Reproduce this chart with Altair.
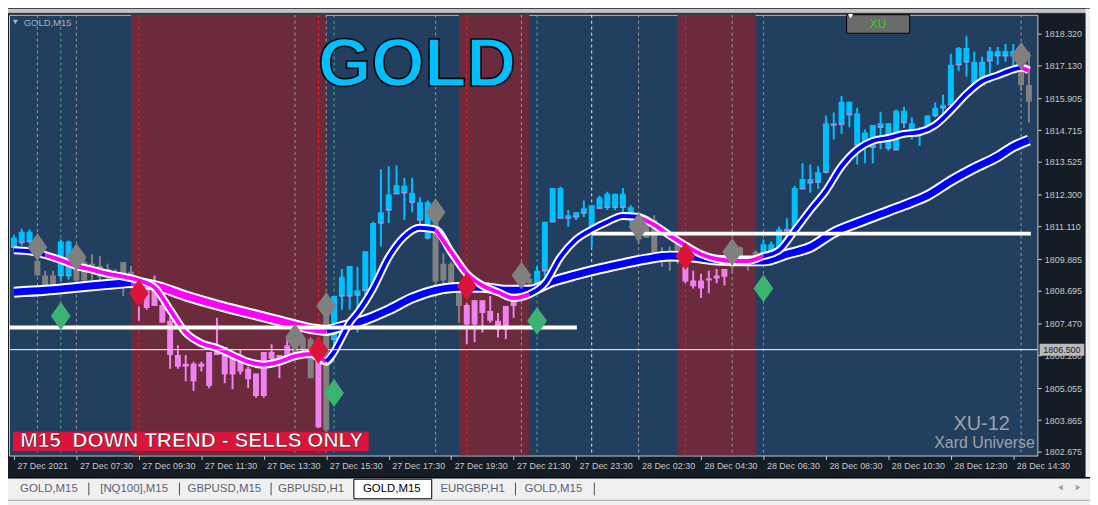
import json
import altair as alt
import pandas as pd

# ------------------------------------------------------------------ data
BARS = list(range(131))
# c = up-trend (cyan), p = down-trend (violet), g = neutral (gray)
KIND = ("ccc" "ggg" "cc" "gggggggg" "pppppppppppppppppppp" "ggg" "p" "g"
        "ccccccccccccc" "gggg" "ppppppp" "gg" "ccccccccccccc" "gggggg"
        "pppppp" "gggg" "ccccccccccccccccccccccccccccccccc" "gg")

HIGH = [1810.80, 1811.02, 1810.99, 1810.10, 1809.45, 1809.45, 1810.62, 1810.58, 1810.07, 1810.07,
        1810.07, 1810.00, 1809.71, 1809.52, 1809.78, 1809.63, 1809.09, 1808.98, 1809.27, 1808.51,
        1807.76, 1806.67, 1806.30, 1806.05, 1806.05, 1806.41, 1807.69, 1806.59, 1806.30, 1806.52,
        1805.86, 1805.61, 1806.41, 1806.70, 1806.30, 1806.89, 1806.96, 1807.03, 1806.96, 1806.41,
        1808.61, 1808.51, 1809.52, 1809.63, 1809.60, 1810.18, 1811.28, 1813.25, 1813.36, 1813.39,
        1812.92, 1812.92, 1812.19, 1812.08, 1811.64, 1810.11, 1809.78, 1808.68, 1808.24, 1808.35,
        1808.35, 1808.51, 1807.87, 1808.13, 1808.90, 1809.16, 1809.16, 1809.63, 1811.28, 1812.55,
        1812.59, 1811.72, 1811.64, 1812.08, 1811.90, 1812.26, 1812.41, 1812.33, 1812.55, 1811.90,
        1811.53, 1811.42, 1811.53, 1810.33, 1810.36, 1810.73, 1809.71, 1809.45, 1809.34, 1809.45,
        1809.52, 1809.52, 1810.26, 1810.36, 1809.89, 1810.22, 1810.62, 1810.55, 1811.10, 1811.42,
        1812.63, 1813.47, 1813.43, 1813.36, 1815.26, 1815.37, 1815.99, 1815.77, 1815.55, 1814.73,
        1814.90, 1815.40, 1814.97, 1815.48, 1815.59, 1815.19, 1814.82, 1815.26, 1815.74, 1816.03,
        1817.57, 1817.82, 1818.22, 1817.64, 1817.46, 1817.82, 1817.82, 1817.93, 1817.93, 1817.67,
        1817.64]
BODY_HI = [1810.69, 1810.91, 1810.91, 1809.82, 1809.27, 1809.27, 1810.55, 1810.55, 1809.63, 1809.78,
           1809.71, 1809.63, 1809.52, 1809.34, 1809.78, 1809.41, 1808.98, 1808.72, 1808.98, 1808.17,
           1807.58, 1806.30, 1805.97, 1805.97, 1805.97, 1806.41, 1806.59, 1806.59, 1806.30, 1806.30,
           1805.79, 1805.61, 1806.41, 1806.41, 1806.30, 1806.67, 1806.89, 1806.96, 1806.89, 1806.30,
           1808.13, 1808.51, 1809.23, 1809.63, 1808.72, 1810.18, 1811.24, 1811.64, 1812.30, 1812.66,
           1812.63, 1812.37, 1812.01, 1812.01, 1811.24, 1809.71, 1809.71, 1808.68, 1808.17, 1808.35,
           1808.35, 1807.95, 1807.58, 1808.13, 1808.87, 1809.16, 1809.16, 1809.45, 1811.28, 1812.55,
           1812.55, 1811.53, 1811.64, 1811.79, 1811.90, 1812.19, 1812.33, 1812.33, 1812.33, 1811.83,
           1811.35, 1811.17, 1811.35, 1810.18, 1810.18, 1810.62, 1809.60, 1809.09, 1809.09, 1809.16,
           1809.27, 1809.52, 1810.15, 1810.33, 1809.89, 1810.15, 1810.44, 1810.44, 1810.99, 1811.02,
           1812.55, 1812.88, 1812.88, 1813.14, 1814.97, 1814.97, 1815.77, 1815.77, 1815.33, 1814.62,
           1814.90, 1814.97, 1814.97, 1815.44, 1815.44, 1814.97, 1814.64, 1815.26, 1815.55, 1815.66,
           1817.16, 1817.78, 1817.78, 1817.27, 1817.27, 1817.67, 1817.67, 1817.67, 1817.67, 1817.49,
           1816.40]
BODY_LO = [1810.33, 1810.51, 1810.55, 1809.27, 1808.87, 1808.79, 1809.27, 1809.27, 1809.09, 1809.09,
           1809.60, 1809.23, 1809.16, 1809.09, 1809.09, 1808.98, 1808.24, 1808.06, 1808.13, 1807.51,
           1806.30, 1805.86, 1805.86, 1805.32, 1805.86, 1805.14, 1806.30, 1805.57, 1805.57, 1805.68,
           1805.39, 1804.77, 1804.77, 1806.15, 1805.97, 1806.15, 1806.30, 1806.52, 1805.43, 1803.60,
           1803.49, 1806.89, 1808.51, 1808.51, 1808.54, 1808.72, 1808.68, 1811.24, 1811.72, 1812.33,
           1812.37, 1812.01, 1811.35, 1810.69, 1809.05, 1809.09, 1808.72, 1808.13, 1807.44, 1807.44,
           1807.87, 1807.58, 1807.25, 1807.25, 1808.13, 1808.79, 1808.98, 1808.98, 1809.45, 1811.28,
           1811.42, 1811.42, 1811.46, 1811.61, 1810.88, 1811.79, 1811.83, 1811.83, 1811.83, 1811.35,
           1810.62, 1810.69, 1810.15, 1809.82, 1809.89, 1809.82, 1809.05, 1808.87, 1808.79, 1809.09,
           1809.16, 1809.23, 1809.60, 1809.78, 1809.63, 1809.63, 1810.07, 1809.96, 1809.96, 1810.95,
           1810.99, 1812.52, 1812.74, 1812.77, 1813.14, 1814.90, 1814.93, 1815.29, 1814.16, 1814.14,
           1814.07, 1814.82, 1814.04, 1813.98, 1815.00, 1814.57, 1814.57, 1814.64, 1815.26, 1815.55,
           1815.66, 1817.16, 1817.27, 1816.40, 1816.40, 1817.31, 1817.49, 1817.49, 1817.49, 1816.40,
           1815.77]
LOW = [1810.22, 1810.40, 1810.44, 1809.27, 1808.54, 1808.54, 1809.05, 1809.12, 1808.98, 1808.98,
       1809.05, 1808.90, 1809.09, 1808.79, 1808.51, 1808.79, 1807.58, 1807.99, 1808.13, 1807.51,
       1805.79, 1805.79, 1805.32, 1804.95, 1805.68, 1805.06, 1806.30, 1805.24, 1805.02, 1805.57,
       1805.06, 1804.70, 1804.70, 1805.97, 1805.43, 1806.05, 1806.23, 1806.41, 1805.43, 1803.57,
       1803.42, 1806.41, 1807.99, 1807.99, 1807.14, 1808.17, 1808.61, 1810.36, 1811.24, 1812.33,
       1811.35, 1811.64, 1811.06, 1810.62, 1808.79, 1808.68, 1808.68, 1807.51, 1806.70, 1806.78,
       1807.14, 1807.51, 1806.96, 1806.89, 1807.69, 1808.43, 1808.61, 1808.98, 1809.23, 1811.28,
       1811.42, 1811.10, 1811.35, 1811.46, 1810.33, 1811.79, 1811.72, 1811.72, 1811.46, 1811.17,
       1810.44, 1810.69, 1810.00, 1809.60, 1809.45, 1809.71, 1808.98, 1808.79, 1808.43, 1808.61,
       1808.98, 1808.90, 1809.34, 1809.63, 1809.45, 1809.63, 1809.96, 1809.63, 1809.96, 1810.73,
       1810.99, 1812.52, 1812.37, 1812.52, 1813.10, 1814.36, 1814.57, 1814.82, 1813.43, 1813.47,
       1813.47, 1814.00, 1813.94, 1813.98, 1814.79, 1814.36, 1814.13, 1814.57, 1815.19, 1815.15,
       1815.66, 1816.91, 1816.72, 1816.17, 1816.40, 1816.47, 1817.16, 1817.27, 1817.02, 1816.17,
       1815.00]

# slow moving average (thick band)
SLOW_BARS = [0, 4, 8, 12, 15, 18, 22, 26, 30, 34, 38, 40, 42, 45, 48, 51, 54, 57, 60, 63, 66,
             69, 72, 75, 78, 81, 84, 87, 90, 93, 96, 99, 102, 105, 108, 111, 114, 117, 120, 123,
             126, 128, 130]
SLOW_VAL = [1808.65, 1808.72, 1808.83, 1808.94, 1809.01, 1808.90, 1808.51, 1808.17, 1807.87,
            1807.58, 1807.29, 1807.22, 1807.37, 1807.62, 1807.99, 1808.43, 1808.72, 1808.83,
            1808.83, 1808.72, 1808.72, 1809.05, 1809.30, 1809.52, 1809.71, 1809.89, 1810.00,
            1809.96, 1809.85, 1809.82, 1809.82, 1810.07, 1810.33, 1810.88, 1811.24, 1811.57,
            1811.90, 1812.26, 1812.81, 1813.29, 1813.72, 1814.09, 1814.34]
SLOW_TREND = "bbbb" "mmmmmmm" "bbbbbbbbbbbbbbbbbbbbbbbbbbbbbbbb"

# fast moving average (thin band)
FAST_BARS = [0, 2, 4, 6, 8, 10, 12, 14, 16, 18, 20, 22, 24, 26, 28, 30, 32, 34, 36, 38, 40,
             41, 42, 43, 44, 46, 48, 50, 52, 54, 56, 58, 60, 62, 64, 66, 68, 70, 72, 74, 76, 78,
             80, 82, 84, 86, 88, 90, 92, 94, 96, 98, 100, 102, 104, 106, 108, 110, 112, 114,
             116, 118, 120, 122, 124, 126, 128, 129, 130]
FAST_VAL = [1810.22, 1810.18, 1810.04, 1809.85, 1809.63, 1809.49, 1809.34, 1809.23, 1809.09,
            1808.83, 1807.99, 1807.14, 1806.74, 1806.56, 1806.30, 1806.05, 1805.94, 1806.05,
            1806.26, 1806.34, 1806.05, 1806.41, 1806.96, 1807.51, 1807.87, 1808.79, 1809.96,
            1810.73, 1811.06, 1810.99, 1810.15, 1809.34, 1808.90, 1808.65, 1808.43, 1808.57,
            1808.98, 1809.96, 1810.62, 1810.99, 1811.28, 1811.50, 1811.46, 1811.17, 1810.77,
            1810.40, 1810.07, 1809.89, 1809.82, 1809.82, 1810.00, 1810.22, 1810.95, 1811.72,
            1812.44, 1813.36, 1813.98, 1814.31, 1814.42, 1814.57, 1814.64, 1814.90, 1815.44,
            1816.06, 1816.54, 1816.76, 1816.98, 1817.05, 1816.94]
FAST_TREND = ("bb" "mmmmmmmmmmmmmmmmmm" "b" "bbbbbbbb" "mmmmmm" "bbbbbbb" "mmmmmmmm"
              "bbbbbbbbbbbbbbbbb" "mm")

# signal diamonds
SIG_BAR = [3, 8, 36, 40, 54, 65, 80, 92, 129, 6, 41, 67, 96, 16, 39, 58, 86]
SIG_KIND = ["n", "n", "n", "n", "n", "n", "n", "n", "n", "b", "b", "b", "b", "s", "s", "s", "s"]
SIG_PRICE = [1810.33, 1809.96, 1806.96, 1808.13, 1811.64, 1809.27, 1811.10, 1810.15, 1817.49,
             1807.76, 1804.88, 1807.58, 1808.79, 1808.61, 1806.48, 1808.87, 1810.00]

# vertical dashed markers
DASH_BAR = [3, 6, 8, 16, 36, 39, 40, 41, 54, 58, 65, 67, 74, 80, 86, 92, 96, 129]
DASH_KIND = ["n", "b", "n", "s", "n", "s", "n", "b", "n", "s", "n", "b", "l", "n", "s", "n", "b", "n"]

# horizontal levels
LEVEL_START = [-2, 74]
LEVEL_END = [72.1, 130.25]
LEVEL_PRICE = [1807.33, 1810.84]
CURRENT_PRICE = 1806.50

# session zones (bars)
ZONE_START = [15, 57, 85]
ZONE_END = [40, 66, 95]

PRICE_TICKS = [1818.320, 1817.130, 1815.905, 1814.715, 1813.525, 1812.300, 1811.110,
               1809.885, 1808.695, 1807.470, 1806.280, 1805.055, 1803.865, 1802.675]
TIME_TICKS = [0, 8, 16, 24, 32, 40, 48, 56, 64, 72, 80, 88, 96, 104, 112, 120, 128]
TIME_LABELS = ["27 Dec 2021", "27 Dec 07:30", "27 Dec 09:30", "27 Dec 11:30", "27 Dec 13:30",
               "27 Dec 15:30", "27 Dec 17:30", "27 Dec 19:30", "27 Dec 21:30", "27 Dec 23:30",
               "28 Dec 02:30", "28 Dec 04:30", "28 Dec 06:30", "28 Dec 08:30", "28 Dec 10:30",
               "28 Dec 12:30", "28 Dec 14:30"]

TAB_LABELS = ["GOLD,M15", "[NQ100],M15", "GBPUSD,M15", "GBPUSD,H1", "GOLD,M15", "EURGBP,H1", "GOLD,M15"]
ACTIVE_TAB = 4

# ------------------------------------------------------------------ layout / style
W, H = 1036, 444
FONT = "Liberation Sans"
BLUE_BG, RED_BG, AXIS_BG = "#233f60", "#6b2b3d", "#141c26"
CYAN, PINK, GRAY = "#00bfff", "#ee82ee", "#808080"
TAB_CX = [41.5, 128, 219.5, 307.5, 389.5, 471.5, 553.5]
TAB_SEP = [82, 174, 267, 515, 595]


def px(rx):
    return rx * 1090.0 / 1098.0 - 1.0


def py(ry):
    return ry * 497.0 / 505.0 - 5.0


xs = alt.Scale(domain=[0, 130.45], nice=False, zero=False)
ys = alt.Scale(domain=[1802.541, 1819.025], nice=False, zero=False)

label_expr = f"{json.dumps(TIME_LABELS)}[indexof({json.dumps(TIME_TICKS)}, datum.value)]"
XAX = alt.Axis(values=TIME_TICKS, labelExpr=label_expr, labelAlign="left", labelOffset=3,
               labelBaseline="top", labelFont=FONT, labelFontSize=9, labelColor="#c8c8c8",
               tickColor="#c8c8c8", tickSize=4, labelPadding=2, domain=False, grid=False,
               title=None, labelOverlap=False, labelFlush=False)
YAX = alt.Axis(values=PRICE_TICKS, format=".3f", orient="right", labelFont=FONT, labelFontSize=9,
               labelColor="#c8c8c8", tickColor="#c8c8c8", tickSize=4, labelPadding=3,
               domain=False, grid=False, title=None, labelOverlap=False, labelFlush=False)


def X(f):
    return alt.X(f"{f}:Q", scale=xs, axis=XAX)


def Y(f):
    return alt.Y(f"{f}:Q", scale=ys, axis=YAX)


def one():
    return pd.DataFrame({"k": [0]})


def txt(s, x, y, **kw):
    return alt.Chart(pd.DataFrame({"t": [s]})).mark_text(**kw).encode(
        text="t:N", x=alt.value(x), y=alt.value(y))


def box(x1, x2, y1, y2, **kw):
    return alt.Chart(one()).mark_rect(**kw).encode(
        x=alt.value(x1), x2=alt.value(x2), y=alt.value(y1), y2=alt.value(y2))


def hline(x1, x2, y, **kw):
    return alt.Chart(one()).mark_rule(**kw).encode(x=alt.value(x1), x2=alt.value(x2), y=alt.value(y))


def vline(x, y1, y2, **kw):
    return alt.Chart(one()).mark_rule(**kw).encode(x=alt.value(x), y=alt.value(y1), y2=alt.value(y2))


def sym(shape, x, y, size, color):
    return alt.Chart(one()).mark_point(shape=shape, size=size, filled=True, opacity=1,
                                       color=color, strokeWidth=0).encode(
        x=alt.value(x), y=alt.value(y))


def segments(bars, vals, trend):
    rows, seg, start, n = [], 0, 0, len(bars)
    while start < n:
        end = start
        while end + 1 < n and trend[end + 1] == trend[start]:
            end += 1
        last = min(end + 1, n - 1)
        for j in range(start, last + 1):
            rows.append({"bar": bars[j], "v": vals[j], "seg": seg, "trend": trend[start]})
        seg += 1
        start = end + 1
    return pd.DataFrame(rows)


# ------------------------------------------------------------------ layers
cdf = pd.DataFrame(dict(bar=BARS, kind=list(KIND), high=HIGH, bhi=BODY_HI, blo=BODY_LO, low=LOW))
kind_color = alt.Color("kind:N", scale=alt.Scale(domain=["c", "p", "g"], range=[CYAN, PINK, GRAY]),
                       legend=None)
trend_color = alt.Color("trend:N", scale=alt.Scale(domain=["b", "m"], range=["#0000ff", "#ff00ff"]),
                        legend=None)

zones = alt.Chart(pd.DataFrame(dict(start=ZONE_START, end=ZONE_END))).mark_rect(
    color=RED_BG, clip=True).encode(x=X("start"), x2="end", y=alt.value(0), y2=alt.value(H))

dashes = alt.Chart(pd.DataFrame(dict(bar=DASH_BAR, kind=DASH_KIND))).mark_rule(
    strokeDash=[3, 3], strokeWidth=1, clip=True).encode(
    x=X("bar"),
    color=alt.Color("kind:N", scale=alt.Scale(domain=["n", "b", "s", "l"],
                                              range=["#9a9a9a", "#4fae84", "#ff1c1c", "#c8f4ff"]),
                    legend=None))

gold = txt("GOLD", px(415), py(78), font=FONT, fontWeight="bold", fontSize=69,
           color=CYAN, stroke="#05080c", strokeWidth=1.6, align="center", baseline="alphabetic")

wicks = alt.Chart(cdf).mark_rule(strokeWidth=2, clip=True).encode(
    x=X("bar"), y=Y("low"), y2="high", color=kind_color)
bodies = alt.Chart(cdf).mark_bar(size=6, clip=True, orient="vertical").encode(
    x=X("bar"), y=Y("blo"), y2="bhi", color=kind_color)
opens = alt.Chart(cdf).transform_filter("datum.kind == 'c'").mark_tick(
    orient="horizontal", size=6, thickness=1.5, color="#ff80e0", clip=True).encode(
    x=X("bar"), y=Y("blo"))

sdf = pd.DataFrame(dict(bar=SLOW_BARS, v=SLOW_VAL))
fdf = pd.DataFrame(dict(bar=FAST_BARS, v=FAST_VAL))
slow_out = alt.Chart(sdf).mark_line(color="white", strokeWidth=11, interpolate="monotone",
                                    clip=True).encode(x=X("bar"), y=Y("v"))
slow_in = alt.Chart(segments(SLOW_BARS, SLOW_VAL, SLOW_TREND)).mark_line(
    strokeWidth=7, interpolate="monotone", clip=True).encode(
    x=X("bar"), y=Y("v"), detail="seg:N", color=trend_color)
fast_out = alt.Chart(fdf).mark_line(color="white", strokeWidth=8, interpolate="monotone",
                                    clip=True).encode(x=X("bar"), y=Y("v"))
fast_in = alt.Chart(segments(FAST_BARS, FAST_VAL, FAST_TREND)).mark_line(
    strokeWidth=4, interpolate="monotone", clip=True).encode(
    x=X("bar"), y=Y("v"), detail="seg:N", color=trend_color)

levels = alt.Chart(pd.DataFrame(dict(start=LEVEL_START, end=LEVEL_END, price=LEVEL_PRICE))).mark_rule(
    color="white", strokeWidth=4, clip=True).encode(x=X("start"), x2="end", y=Y("price"))
cur = pd.DataFrame({"price": [CURRENT_PRICE]})
cur_line = alt.Chart(cur).mark_rule(color="white", strokeWidth=1, clip=True).encode(y=Y("price"))

DIAMOND = "M0,-1.4L1,0L0,1.4L-1,0Z"
diamonds = alt.Chart(pd.DataFrame(dict(bar=SIG_BAR, kind=SIG_KIND, price=SIG_PRICE))).mark_point(
    shape=DIAMOND, size=400, filled=True, opacity=1, strokeWidth=0, clip=True).encode(
    x=X("bar"), y=Y("price"),
    color=alt.Color("kind:N", scale=alt.Scale(domain=["n", "b", "s"],
                                              range=[GRAY, "#3cb371", "#dc143c"]), legend=None))

BOX = "M-1,-0.27L1,-0.27L1,0.27L-1,0.27Z"
price_box = alt.Chart(cur).mark_point(shape=BOX, size=2025, filled=True, opacity=1, strokeWidth=0,
                                      color="#b9b9b9").encode(x=alt.value(px(1069.5)), y=Y("price"))
price_txt = alt.Chart(cur).mark_text(font=FONT, fontSize=9, color="#202020", align="center",
                                     baseline="middle").encode(
    x=alt.value(px(1069.5)), y=Y("price"), text=alt.Text("price:Q", format=".3f"))

# annotation boxes inside the chart
trend_box = box(px(5), px(366), py(432), py(451.5), color="#dc143c")
TREND_TEXT = "M15\u00a0 DOWN TREND - SELLS ONLY"
trend_tx = txt(TREND_TEXT, px(186.5), py(448), font=FONT, fontWeight="bold",
               fontSize=21, color="white", stroke="#5a0a1c", strokeWidth=0.6,
               align="center", baseline="alphabetic")
xu12 = txt("XU-12", px(988), py(430), font=FONT, fontSize=20, color="#9fa3a8", align="center",
           baseline="alphabetic")
xard = txt("Xard Universe", px(991), py(449), font=FONT, fontSize=16, color="#9fa3a8",
           align="center", baseline="alphabetic")
sym_tri = sym("triangle-down", px(7.5), py(12.5), 28, "#a8b0b8")
sym_lbl = txt("GOLD,M15", px(16), py(13), font=FONT, fontSize=9.5, color="#a8b0b8",
              align="left", baseline="middle")
xu_btn = box(px(851), px(915), py(5), py(24), color="#6b6b6b", stroke="black", strokeWidth=1)
xu_txt = txt("XU", px(883), py(15), font=FONT, fontSize=12, color="#2bd12b", align="center",
             baseline="middle")
xu_tri = sym("triangle-down", px(855), py(6.5), 30, "white")

# window chrome
top_strip = box(-2, 1092, -6, py(3.2), color="#c4c4c4")
top_dark = hline(-2, 1092, py(3.6), color="#3c3c3c", strokeWidth=1)
right_strip = box(px(1093.5), 1092, -6, py(479), color="#f0f0f0")
tab_bar = box(-2, 1092, py(479), 494, color="#f0f0f0")
tab_top = hline(-2, 1092, py(479), color="black", strokeWidth=1.5)
tab_bottom = hline(-2, 1092, py(502), color="#a0a0a0", strokeWidth=1)
active_box = box(px(351), px(430), py(480.5), py(500.5), color="white", stroke="black", strokeWidth=1)

chrome = [top_strip, top_dark, right_strip, tab_bar, tab_top, tab_bottom, active_box]
for i, (lab, cx) in enumerate(zip(TAB_LABELS, TAB_CX)):
    chrome.append(txt(lab, px(cx), py(491), font=FONT, fontSize=11.5,
                      color="black" if i == ACTIVE_TAB else "#5a6272",
                      align="center", baseline="middle"))
for sx in TAB_SEP:
    chrome.append(vline(px(sx), py(484), py(497), color="#505050", strokeWidth=1))
chrome.append(sym("triangle-left", px(1068), py(489), 30, "#a0a0a0"))
chrome.append(sym("triangle-right", px(1086), py(489), 30, "#a0a0a0"))

layers = [zones, dashes, gold, wicks, bodies, opens,
          slow_out, slow_in, fast_out, fast_in, levels, cur_line, diamonds,
          trend_box, trend_tx, xu12, xard, sym_tri, sym_lbl, xu_btn, xu_txt, xu_tri,
          price_box, price_txt] + chrome

chart = alt.layer(*layers).properties(
    width=W, height=H,
    padding={"left": 1, "top": 5, "right": 53, "bottom": 48},
    autosize=alt.AutoSizeParams(type="none"),
    background=AXIS_BG,
).resolve_scale(color="independent").configure_view(
    fill=BLUE_BG, stroke="#c8c8c8", strokeWidth=1)

chart.save("out.html", embed_options={"renderer": "svg", "actions": False})
